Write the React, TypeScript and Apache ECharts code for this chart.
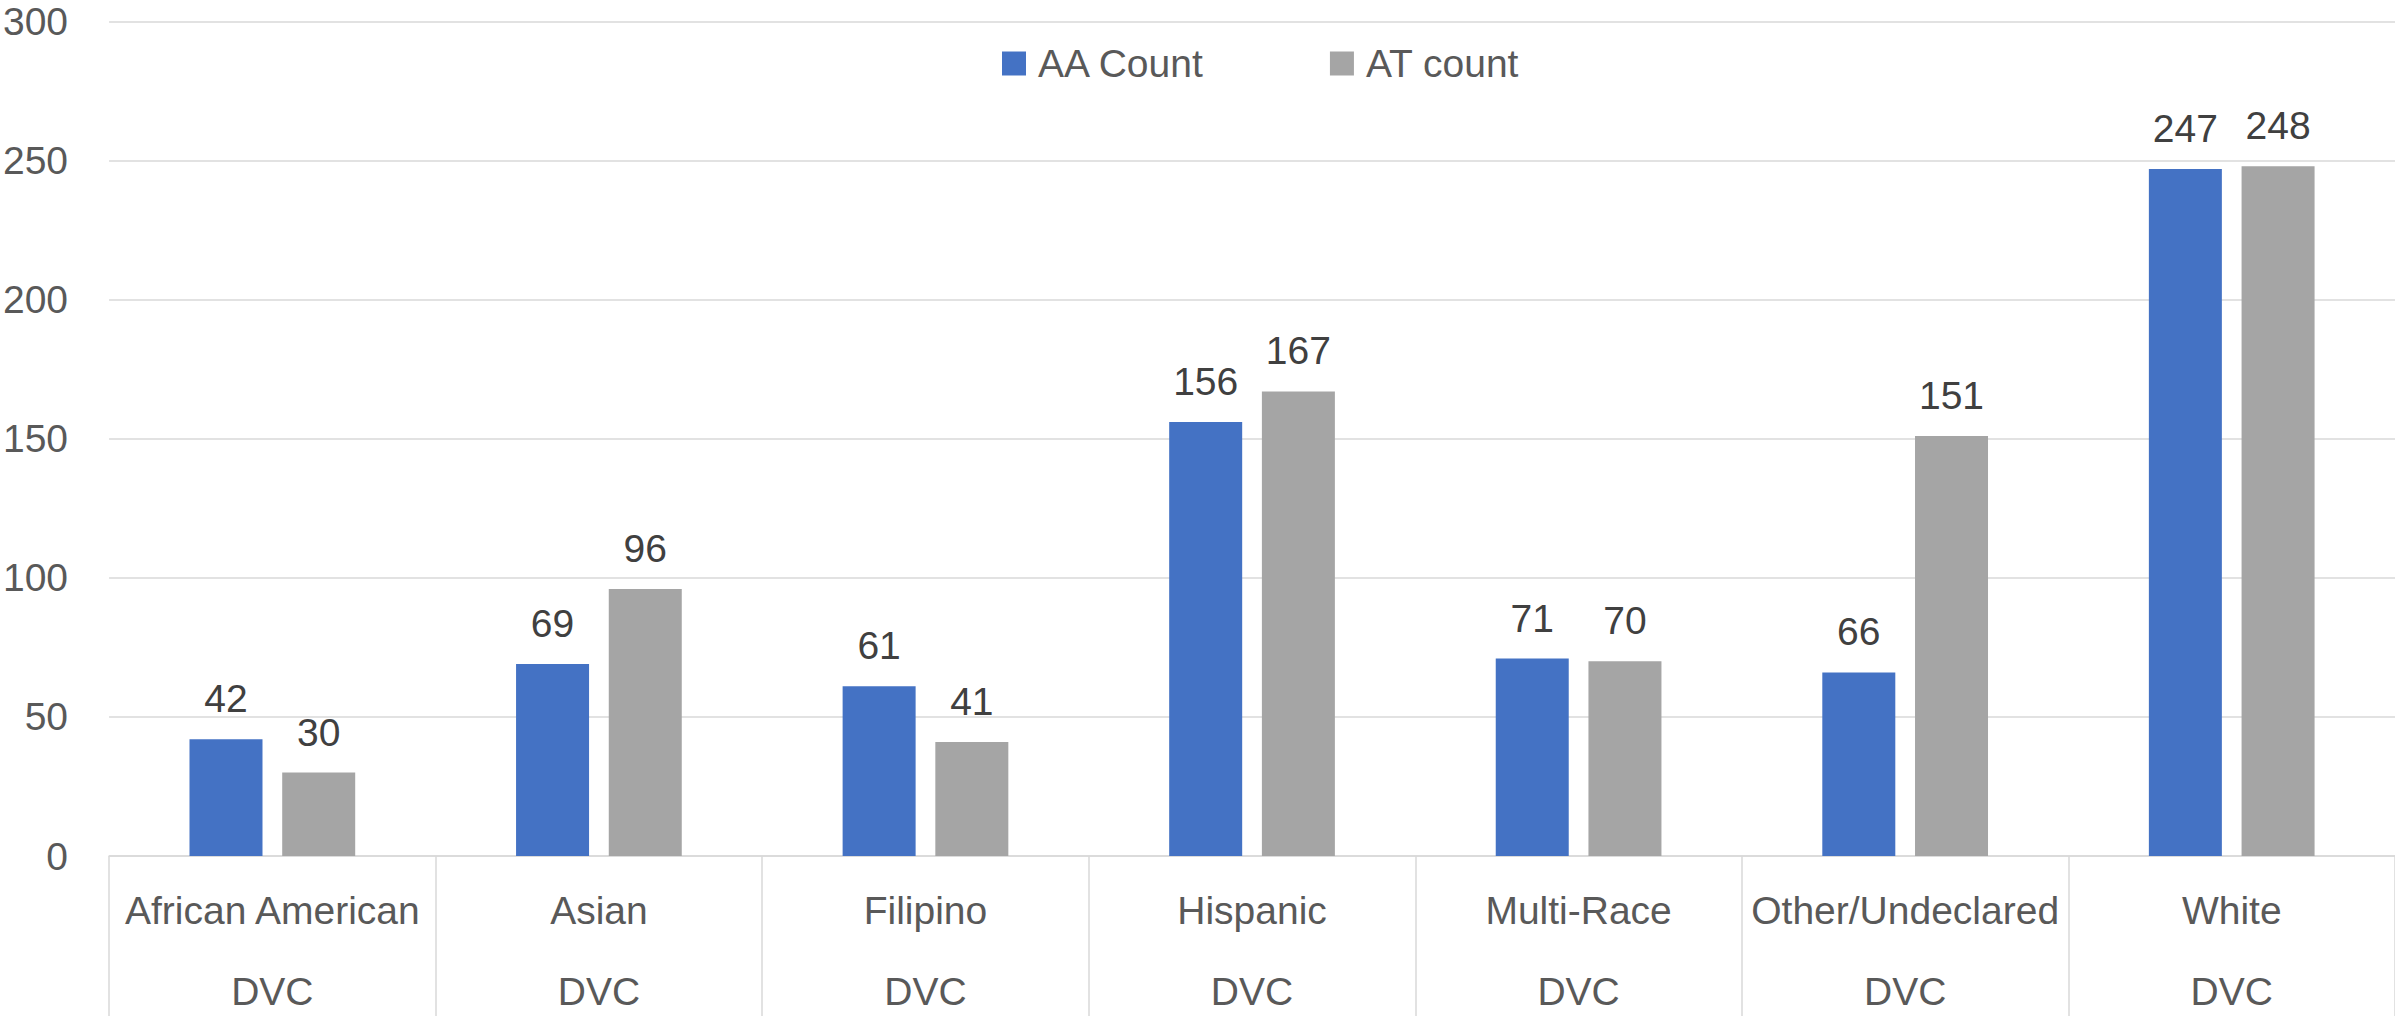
import React, { useEffect, useRef } from "react";
import * as echarts from "echarts";

const categories = ["African American", "Asian", "Filipino", "Hispanic", "Multi-Race", "Other/Undeclared", "White"];
const groupLabel = "DVC";
const aaCount = [42, 69, 61, 156, 71, 66, 247];
const atCount = [30, 96, 41, 167, 70, 151, 248];
const seriesNames = ["AA Count", "AT count"];
const yTicks = { min: 0, max: 300, interval: 50 };

const FONT = "'Liberation Sans', Arial, sans-serif";

export default function App() {
  const ref = useRef<HTMLDivElement>(null);
  useEffect(() => {
    document.body.style.margin = "0";
    const chart = echarts.init(ref.current!, null, { renderer: "svg" });
    const labelCfg = {
      show: true,
      position: "top",
      distance: 21,
      fontSize: 39,
      color: "#404040",
      fontFamily: FONT,
    };
    chart.setOption({
      animation: false,
      backgroundColor: "#ffffff",
      textStyle: { fontFamily: FONT },
      grid: { left: 107, right: -1, top: 21.5, bottom: 160, containLabel: false },
      legend: {
        left: 997,
        top: 39,
        itemWidth: 24,
        itemHeight: 24,
        itemGap: 125,
        icon: "rect",
        textStyle: { fontSize: 39, color: "#595959", fontFamily: FONT, padding: [0, 0, 0, 7] },
        data: seriesNames,
      },
      xAxis: {
        type: "category",
        data: categories,
        axisLine: { show: true, lineStyle: { color: "#d9d9d9", width: 1.5 } },
        axisTick: { show: true, length: 160, interval: 0, lineStyle: { color: "#d9d9d9", width: 1.5 } },
        axisLabel: {
          interval: 0,
          margin: 14,
          formatter: (v: string) => `{a|${v}}\n{b|${groupLabel}}`,
          rich: {
            a: { fontSize: 39, lineHeight: 81, color: "#595959", fontFamily: FONT },
            b: { fontSize: 39, lineHeight: 81, color: "#595959", fontFamily: FONT },
          },
        },
      },
      yAxis: {
        type: "value",
        min: yTicks.min,
        max: yTicks.max,
        interval: yTicks.interval,
        axisLine: { show: false },
        axisTick: { show: false },
        axisLabel: { fontSize: 39, color: "#595959", margin: 41, fontFamily: FONT },
        splitLine: { lineStyle: { color: "#d9d9d9", width: 1.5 } },
      },
      series: [
        {
          name: seriesNames[0],
          type: "bar",
          data: aaCount,
          barWidth: 73,
          barGap: "27%",
          itemStyle: { color: "#4472C4" },
          label: labelCfg,
        },
        {
          name: seriesNames[1],
          type: "bar",
          data: atCount,
          barWidth: 73,
          barGap: "27%",
          itemStyle: { color: "#A5A5A5" },
          label: labelCfg,
        },
      ],
    });
    return () => chart.dispose();
  }, []);
  return (
    <div
      ref={ref}
      style={{ position: "fixed", left: 0, top: 0, width: 2395, height: 1016 }}
    />
  );
}
